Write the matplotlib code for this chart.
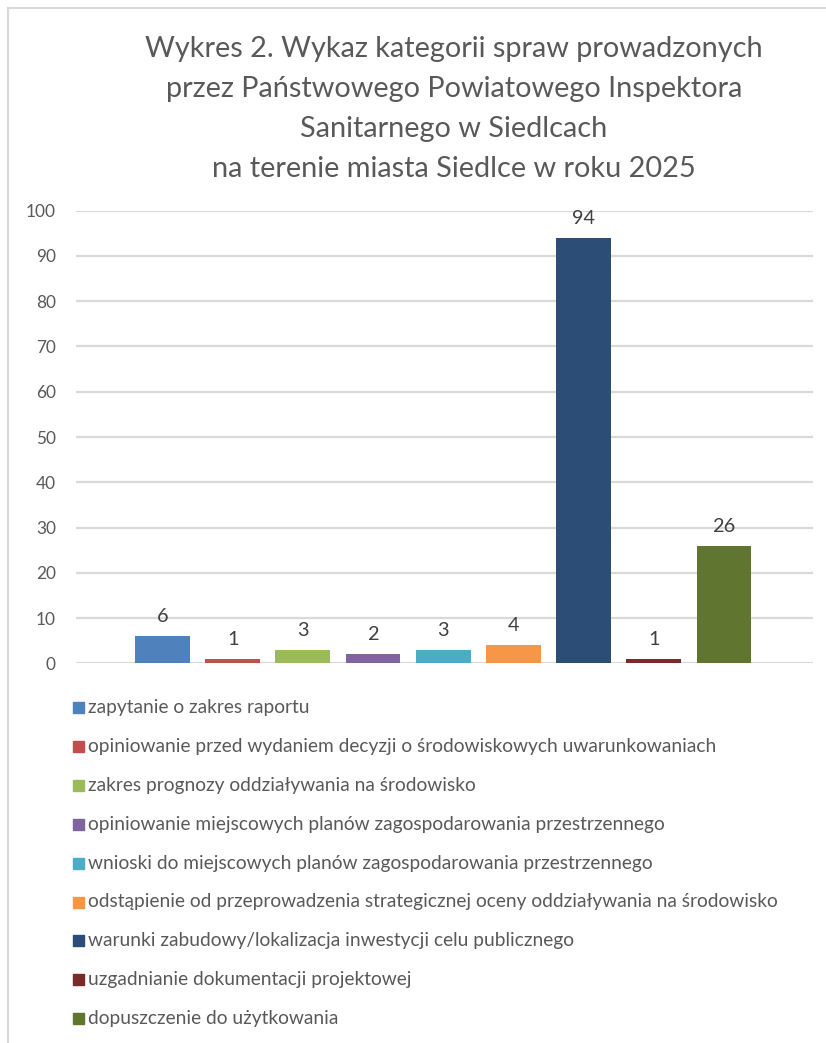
import matplotlib
matplotlib.use("Agg")
import matplotlib.pyplot as plt
from matplotlib.patches import Rectangle
from matplotlib.lines import Line2D

# ---------------- data ----------------
categories = [
    "zapytanie o zakres raportu",
    "opiniowanie przed wydaniem decyzji o środowiskowych uwarunkowaniach",
    "zakres prognozy oddziaływania na środowisko",
    "opiniowanie miejscowych planów zagospodarowania przestrzennego",
    "wnioski do miejscowych planów zagospodarowania przestrzennego",
    "odstąpienie od przeprowadzenia strategicznej oceny oddziaływania na środowisko",
    "warunki zabudowy/lokalizacja inwestycji celu publicznego",
    "uzgadnianie dokumentacji projektowej",
    "dopuszczenie do użytkowania",
]
values = [6, 1, 3, 2, 3, 4, 94, 1, 26]
colors = ["#4F81BD", "#C0504D", "#9BBB59", "#8064A2", "#4BACC6",
          "#F79646", "#2C4D75", "#772C2A", "#5F7530"]
title_lines = [
    "Wykres 2. Wykaz kategorii spraw prowadzonych",
    "przez Państwowego Powiatowego Inspektora",
    "Sanitarnego w Siedlcach",
    "na terenie miasta Siedlce w roku 2025",
]
yticks = [0, 10, 20, 30, 40, 50, 60, 70, 80, 90, 100]

# ---------------- layout helpers ----------------
W, H = 826, 1043
FONT = "Lato"
GRAY = "#595959"
fig = plt.figure(figsize=(W / 100, H / 100), dpi=100)
renderer = fig.canvas.get_renderer()


def fx(x):
    return x / W


def fy(y):
    return 1 - y / H


def fit(txt, target):
    w = txt.get_window_extent(renderer).width
    txt.set_fontsize(txt.get_fontsize() * target / w)
    return txt.get_fontsize()


# chart frame border (top & left visible)
fig.add_artist(Line2D([fx(8), fx(8)], [fy(8), 0], color="#D9D9D9", lw=1.5))
fig.add_artist(Line2D([fx(8), 1], [fy(8), fy(8)], color="#D9D9D9", lw=1.5))

# ---------------- axes ----------------
x0, x1, ytop, ybot = 76, 813, 210.7, 663.3
ax = fig.add_axes([fx(x0), fy(ybot), (x1 - x0) / W, (ybot - ytop) / H])
xs = list(range(len(values)))
ax.bar(xs, values, width=0.78, color=colors, zorder=3)
ax.set_xlim(-1.232, 9.27)
ax.set_ylim(0, 100)
ax.set_yticks(yticks)
ax.set_xticks([])
for s in ax.spines.values():
    s.set_visible(False)
ax.grid(axis="y", color="#D9D9D9", lw=1.6, zorder=0)
ax.set_axisbelow(True)

# tick label size fitted to reference width of "100"
tmp = fig.text(0, 0, "100", fontfamily=FONT, fontsize=12)
tick_fs = fit(tmp, 30)
tmp.remove()
ax.tick_params(axis="y", length=0, pad=14.4, labelsize=tick_fs, labelcolor=GRAY)
for lab in ax.get_yticklabels():
    lab.set_fontfamily(FONT)

# data labels
tmp = fig.text(0, 0, "94", fontfamily=FONT, fontsize=12)
lab_fs = fit(tmp, 23)
tmp.remove()
for x, v in zip(xs, values):
    ax.annotate(str(v), (x, v), xytext=(0, 10), textcoords="offset points",
                ha="center", va="baseline", fontsize=lab_fs,
                fontfamily=FONT, color="#404040")

# ---------------- title ----------------
t0 = fig.text(fx(454), fy(57), title_lines[0], ha="center", va="baseline",
              fontfamily=FONT, fontsize=20, color=GRAY)
title_fs = fit(t0, 619)
for i, line in enumerate(title_lines[1:], start=1):
    fig.text(fx(454), fy(57 + 40 * i), line, ha="center", va="baseline",
             fontfamily=FONT, fontsize=title_fs, color=GRAY)

# ---------------- legend ----------------
texts = []
for i, (cat, col) in enumerate(zip(categories, colors)):
    base = 713 + 38.9 * i
    fig.add_artist(Rectangle((fx(73), fy(base)), 11 / W, 11 / H,
                             transform=fig.transFigure, color=col))
    t = fig.text(fx(88), fy(base), cat, ha="left", va="baseline",
                 fontfamily=FONT, fontsize=14, color=GRAY)
    texts.append(t)
leg_fs = fit(texts[5], 692)
for t in texts:
    t.set_fontsize(leg_fs)

fig.savefig("out.png", dpi=100)
